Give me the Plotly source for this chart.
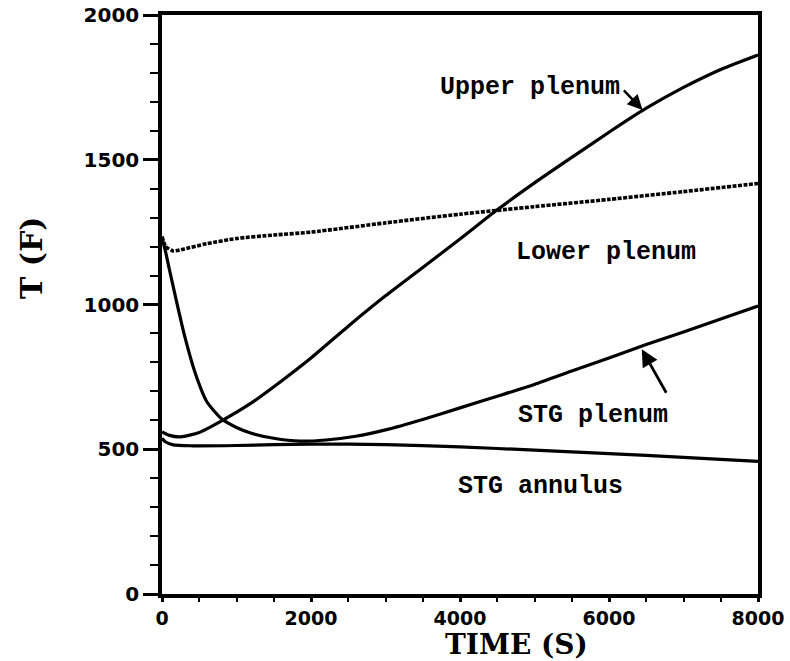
import plotly.graph_objects as go

# ---- data ----
upper_x = [0, 100, 250, 500, 800, 1200, 1600, 2000, 2500, 3000, 3500, 4000, 4500, 5000, 5500, 6000, 6500, 7000, 7500, 8000]
upper_y = [560, 548, 543, 558, 598, 660, 735, 815, 925, 1030, 1128, 1226, 1327, 1420, 1508, 1595, 1678, 1750, 1812, 1862]

lower_x = [0, 50, 150, 300, 600, 1000, 1500, 2000, 3000, 4000, 5000, 6000, 7000, 8000]
lower_y = [1235, 1200, 1185, 1192, 1210, 1228, 1240, 1250, 1282, 1312, 1338, 1363, 1390, 1418]

stgp_x = [0, 50, 100, 200, 300, 450, 600, 800, 1000, 1200, 1500, 1850, 2200, 2600, 3000, 3500, 4000, 4500, 5000, 5500, 6000, 6500, 7000, 7500, 8000]
stgp_y = [1230, 1180, 1120, 1005, 895, 760, 665, 605, 575, 555, 538, 528, 532, 545, 567, 603, 643, 683, 724, 770, 815, 862, 905, 950, 995]

stga_x = [0, 50, 150, 400, 1000, 2000, 3000, 4000, 5000, 6000, 7000, 8000]
stga_y = [538, 525, 515, 512, 513, 518, 516, 508, 497, 485, 472, 458]

x_ticks = [0, 2000, 4000, 6000, 8000]
y_ticks = [0, 500, 1000, 1500, 2000]

labels = ["Upper plenum", "Lower plenum", "STG plenum", "STG annulus"]

fig = go.Figure()
solid = dict(color="black", width=3.2)
fig.add_trace(go.Scatter(x=upper_x, y=upper_y, mode="lines", line=dict(solid, shape="spline", smoothing=0.6), name=labels[0]))
fig.add_trace(go.Scatter(x=lower_x, y=lower_y, mode="lines",
                         line=dict(color="black", width=3.6, dash="4px,1.5px", shape="spline", smoothing=0.6), name=labels[1]))
fig.add_trace(go.Scatter(x=stgp_x, y=stgp_y, mode="lines", line=dict(solid, shape="spline", smoothing=0.6), name=labels[2]))
fig.add_trace(go.Scatter(x=stga_x, y=stga_y, mode="lines", line=dict(solid, shape="spline", smoothing=0.6), name=labels[3]))

ytickfont = dict(family="DejaVu Sans", size=20, color="black", weight="bold")
xtickfont = dict(family="DejaVu Sans", size=19, color="black", weight="bold")
fig.update_xaxes(range=[0, 8000], tickvals=x_ticks, ticktext=[str(v) for v in x_ticks],
                 showline=True, linewidth=3.5, linecolor="black", mirror=True,
                 ticks="outside", ticklen=4, tickwidth=2.5, tickcolor="black",
                 minor=dict(dtick=500, ticks="outside", ticklen=4, tickwidth=2, tickcolor="black"),
                 showgrid=False, zeroline=False, tickfont=xtickfont, automargin=False)
fig.update_yaxes(range=[0, 2000], tickvals=y_ticks, ticktext=[str(v) for v in y_ticks],
                 showline=True, linewidth=3.5, linecolor="black", mirror=True,
                 ticks="outside", ticklen=15, tickwidth=2.5, tickcolor="black",
                 minor=dict(dtick=100, ticks="outside", ticklen=8, tickwidth=2, tickcolor="black"),
                 showgrid=False, zeroline=False, tickfont=ytickfont, automargin=False)

lab_font = dict(family="Liberation Mono", size=25, color="black", weight="bold")
fig.add_annotation(x=4940, y=1748, text=labels[0], showarrow=False, font=lab_font)
fig.add_annotation(x=5960, y=1178, text=labels[1], showarrow=False, font=lab_font)
fig.add_annotation(x=5785, y=615, text=labels[2], showarrow=False, font=lab_font)
fig.add_annotation(x=5074, y=370, text=labels[3], showarrow=False, font=lab_font)

# arrows
fig.add_annotation(x=6450, y=1672, ax=6180, ay=1745, xref="x", yref="y", axref="x", ayref="y",
                   text="", showarrow=True, arrowhead=2, arrowsize=1.2, arrowwidth=2.5, arrowcolor="black")
fig.add_annotation(x=6440, y=845, ax=6780, ay=690, xref="x", yref="y", axref="x", ayref="y",
                   text="", showarrow=True, arrowhead=2, arrowsize=1.2, arrowwidth=2.8, arrowcolor="black")

# axis titles
fig.add_annotation(x=0.594, y=-0.088, xref="paper", yref="paper", text="TIME (S)", showarrow=False,
                   font=dict(family="DejaVu Serif", size=28, color="black", weight="bold"),
                   xanchor="center", yanchor="middle")
fig.add_annotation(x=-0.22, y=0.58, xref="paper", yref="paper", text="T (F)", showarrow=False, textangle=-90,
                   font=dict(family="DejaVu Serif", size=30, color="black", weight="bold"),
                   xanchor="center", yanchor="middle")

fig.update_layout(width=790, height=661, margin=dict(l=162, r=32, t=15, b=67),
                  paper_bgcolor="white", plot_bgcolor="white", showlegend=False)

fig.write_html("out.html")
